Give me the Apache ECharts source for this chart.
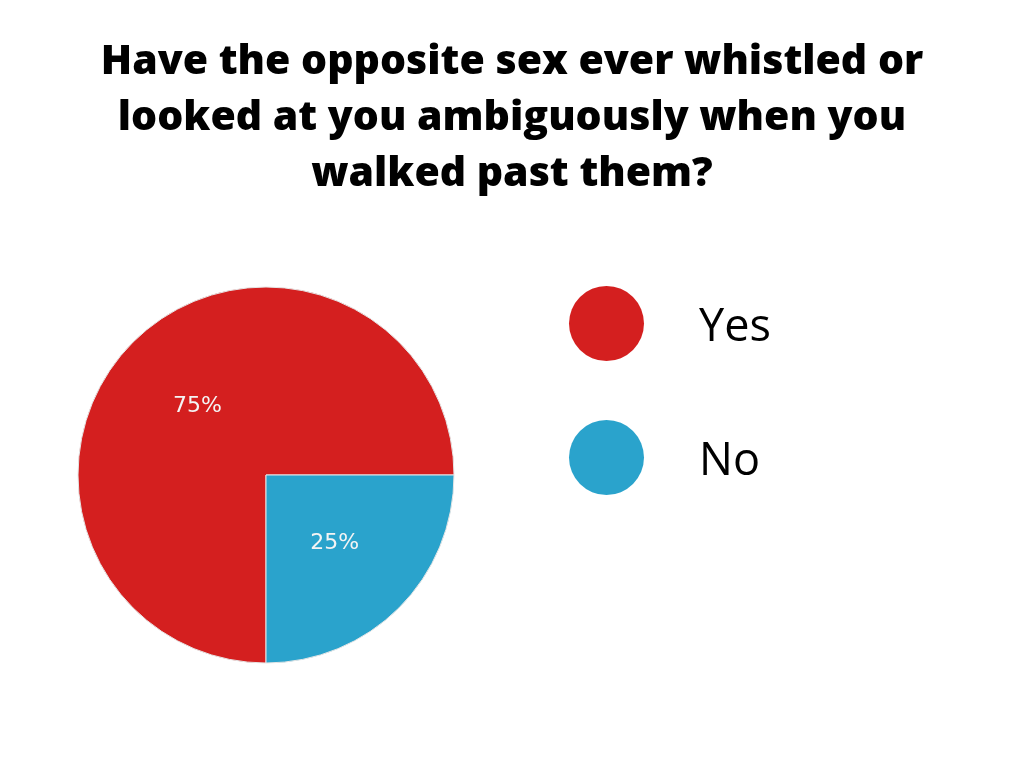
<!DOCTYPE html>
<html>
<head>
<meta charset="utf-8">
<style>html,body{margin:0;padding:0;background:#fff;}#chart{width:1024px;height:768px;}</style>
<script src="https://cdn.jsdelivr.net/npm/echarts@6/dist/echarts.min.js"></script>
</head>
<body>
<div id="chart"></div>
<script>
const titleText = "Have the opposite sex ever whistled or\nlooked at you ambiguously when you\nwalked past them?";
const categories = ["Yes", "No"];
const values = [75, 25];
const colors = ["#d41f1f", "#2aa3cc"];

const chart = echarts.init(document.getElementById('chart'));
chart.setOption({
  backgroundColor: '#ffffff',
  animation: false,
  title: {
    text: titleText,
    left: 'center',
    top: 29,
    textStyle: {
      fontFamily: 'Open Sans',
      fontWeight: 900,
      fontSize: 41,
      lineHeight: 56,
      color: '#000'
    }
  },
  legend: {
    orient: 'vertical',
    left: 564,
    top: 281,
    icon: 'circle',
    itemWidth: 75,
    itemHeight: 75,
    itemGap: 59,
    itemStyle: { borderWidth: 0 },
    formatter: '{t|{name}}',
    textStyle: {
      fontFamily: 'Open Sans',
      fontSize: 45,
      color: '#000',
      padding: [0, 0, 0, 50],
      rich: {
        t: {
          fontFamily: 'Open Sans',
          fontSize: 45,
          color: '#000',
          padding: [10, 0, 0, 0]
        }
      }
    },
    data: categories
  },
  series: [{
    type: 'pie',
    center: [266, 475],
    radius: 188,
    startAngle: 0,
    clockwise: false,
    itemStyle: { borderColor: '#e6e6e6', borderWidth: 1 },
    label: {
      position: 'inner',
      formatter: '{d}%',
      color: '#f4f4f4',
      fontFamily: 'DejaVu Sans',
      fontSize: 22
    },
    labelLine: { show: false },
    emphasis: { disabled: true },
    data: categories.map((c, i) => ({ name: c, value: values[i], itemStyle: { color: colors[i] } }))
  }]
});
</script>
</body>
</html>
